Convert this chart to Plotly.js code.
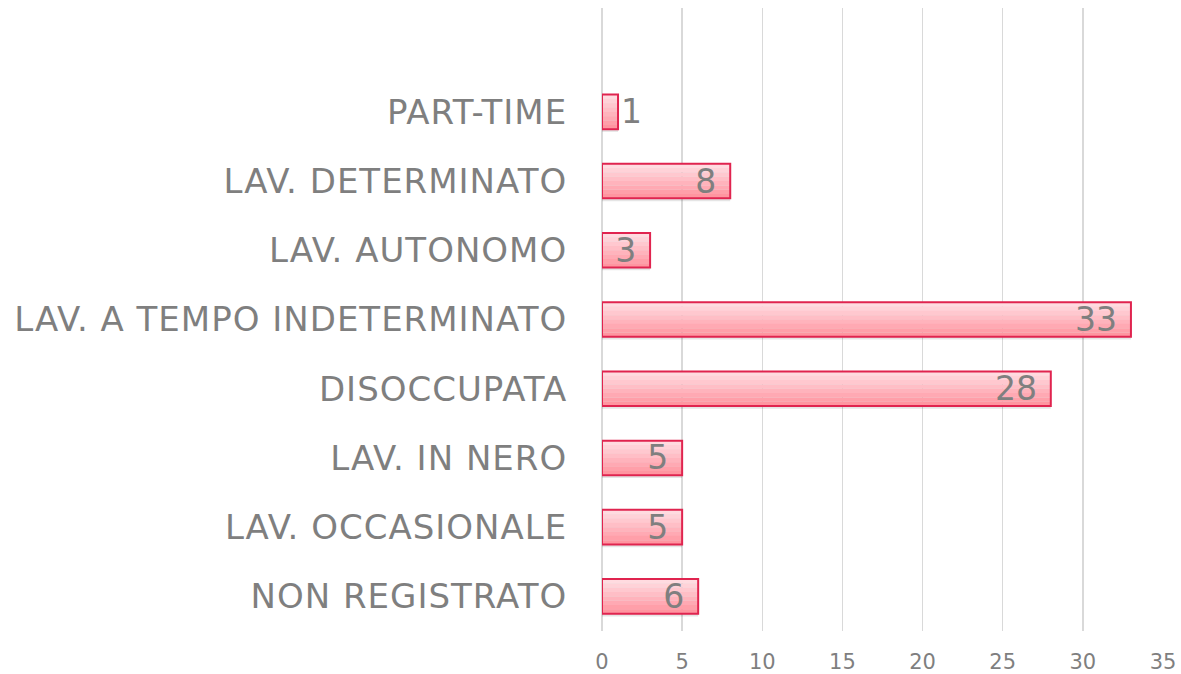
<!DOCTYPE html>
<html>
<head>
<meta charset="utf-8">
<script src="https://cdn.plot.ly/plotly-3.0.1.min.js"></script>
<style>html,body{margin:0;padding:0;background:#fff;}#chart{width:1181px;height:674px;}
#chart .ytick text{letter-spacing:1px;}</style>
</head>
<body>
<div id="chart"></div>
<script>
// Data (top to bottom as shown)
const categories = ["PART-TIME", "LAV. DETERMINATO", "LAV. AUTONOMO", "LAV. A TEMPO INDETERMINATO", "DISOCCUPATA", "LAV. IN NERO", "LAV. OCCASIONALE", "NON REGISTRATO"];
const values = [1, 8, 3, 33, 28, 5, 5, 6];
const xTicks = [0, 5, 10, 15, 20, 25, 30, 35];

// gradient bands (top light -> bottom darker)
const bandColors = ["#ffdbe0", "#ffd2d8", "#ffc8cf", "#ffbec6", "#ffb3bc", "#ffa9b3", "#ff9fa9", "#ff95a0"];
const barW = 0.5;
const traces = [];
// shadow
traces.push({
  type: "bar", orientation: "h", y: categories, x: values,
  width: barW, offset: -barW/2 + 0.04,
  marker: {color: "rgba(0,0,0,0.10)", line: {width: 0}},
  hoverinfo: "skip", showlegend: false
});
const n = bandColors.length;
bandColors.forEach((c, i) => {
  traces.push({
    type: "bar", orientation: "h", y: categories, x: values,
    width: barW / n + 0.002, offset: -barW/2 + i * barW / n,
    marker: {color: c, line: {width: 0}},
    hoverinfo: "skip", showlegend: false
  });
});
const labelFont = {family: "DejaVu Sans, sans-serif", size: 33, color: "#7f7f7f"};
traces.push({
  type: "bar", orientation: "h", y: categories, x: values,
  width: barW, offset: -barW/2,
  marker: {color: "rgba(0,0,0,0)", line: {color: "#e0244f", width: 2}},
  text: values.map(v => v >= 3 ? v + "\u2004" : String(v)),
  textposition: values.map(v => v >= 3 ? "inside" : "outside"),
  insidetextanchor: "end", textangle: 0,
  constraintext: "none", cliponaxis: false,
  textfont: labelFont, insidetextfont: labelFont, outsidetextfont: labelFont,
  showlegend: false
});

const layout = {
  width: 1181, height: 674,
  margin: {l: 602, r: 18, t: 8, b: 43, pad: 0},
  paper_bgcolor: "#ffffff", plot_bgcolor: "#ffffff",
  barmode: "overlay", showlegend: false,
  font: {family: "DejaVu Sans, sans-serif", color: "#7f7f7f"},
  xaxis: {
    range: [0, 35], tickvals: xTicks, ticktext: xTicks.map(String),
    showgrid: true, gridcolor: "#d9d9d9", gridwidth: 1.5,
    zeroline: true, zerolinecolor: "#d9d9d9", zerolinewidth: 1.5, showline: false,
    ticks: "outside", ticklen: 12, tickcolor: "rgba(0,0,0,0)",
    tickfont: {size: 21, color: "#7f7f7f"}, automargin: false, fixedrange: true
  },
  yaxis: {
    type: "category", categoryorder: "array", categoryarray: categories,
    range: [7.5, -1.5], showgrid: false, zeroline: false, showline: false,
    ticks: "outside", ticklen: 27, tickcolor: "rgba(0,0,0,0)",
    tickfont: {size: 34, color: "#7f7f7f"}, automargin: false, fixedrange: true
  }
};
Plotly.newPlot("chart", traces, layout, {displayModeBar: false, staticPlot: true});
</script>
</body>
</html>
